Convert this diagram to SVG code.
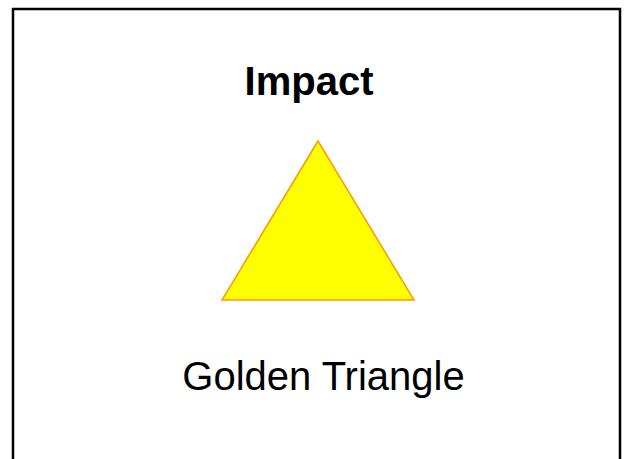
<svg xmlns="http://www.w3.org/2000/svg" width="625" height="459" viewBox="0 0 625 459">
<style>
text{font-family:"Liberation Sans",Arial,sans-serif;font-size:40px;fill:#000;text-anchor:middle}
</style>
<rect width="625" height="459" fill="#fff"/>
<rect x="13" y="9" width="607" height="470" fill="none" stroke="#000" stroke-width="2.5"/>
<g id="title"><text x="309" y="95" font-weight="bold">Impact</text></g>
<g id="triangle"><polygon points="318,141 222,300 414,300" fill="#ffff00" stroke="#ff9900" stroke-width="1.5"/></g>
<g id="label"><text x="323.5" y="390">Golden Triangle</text></g>
<g id="connectors"/>
</svg>
